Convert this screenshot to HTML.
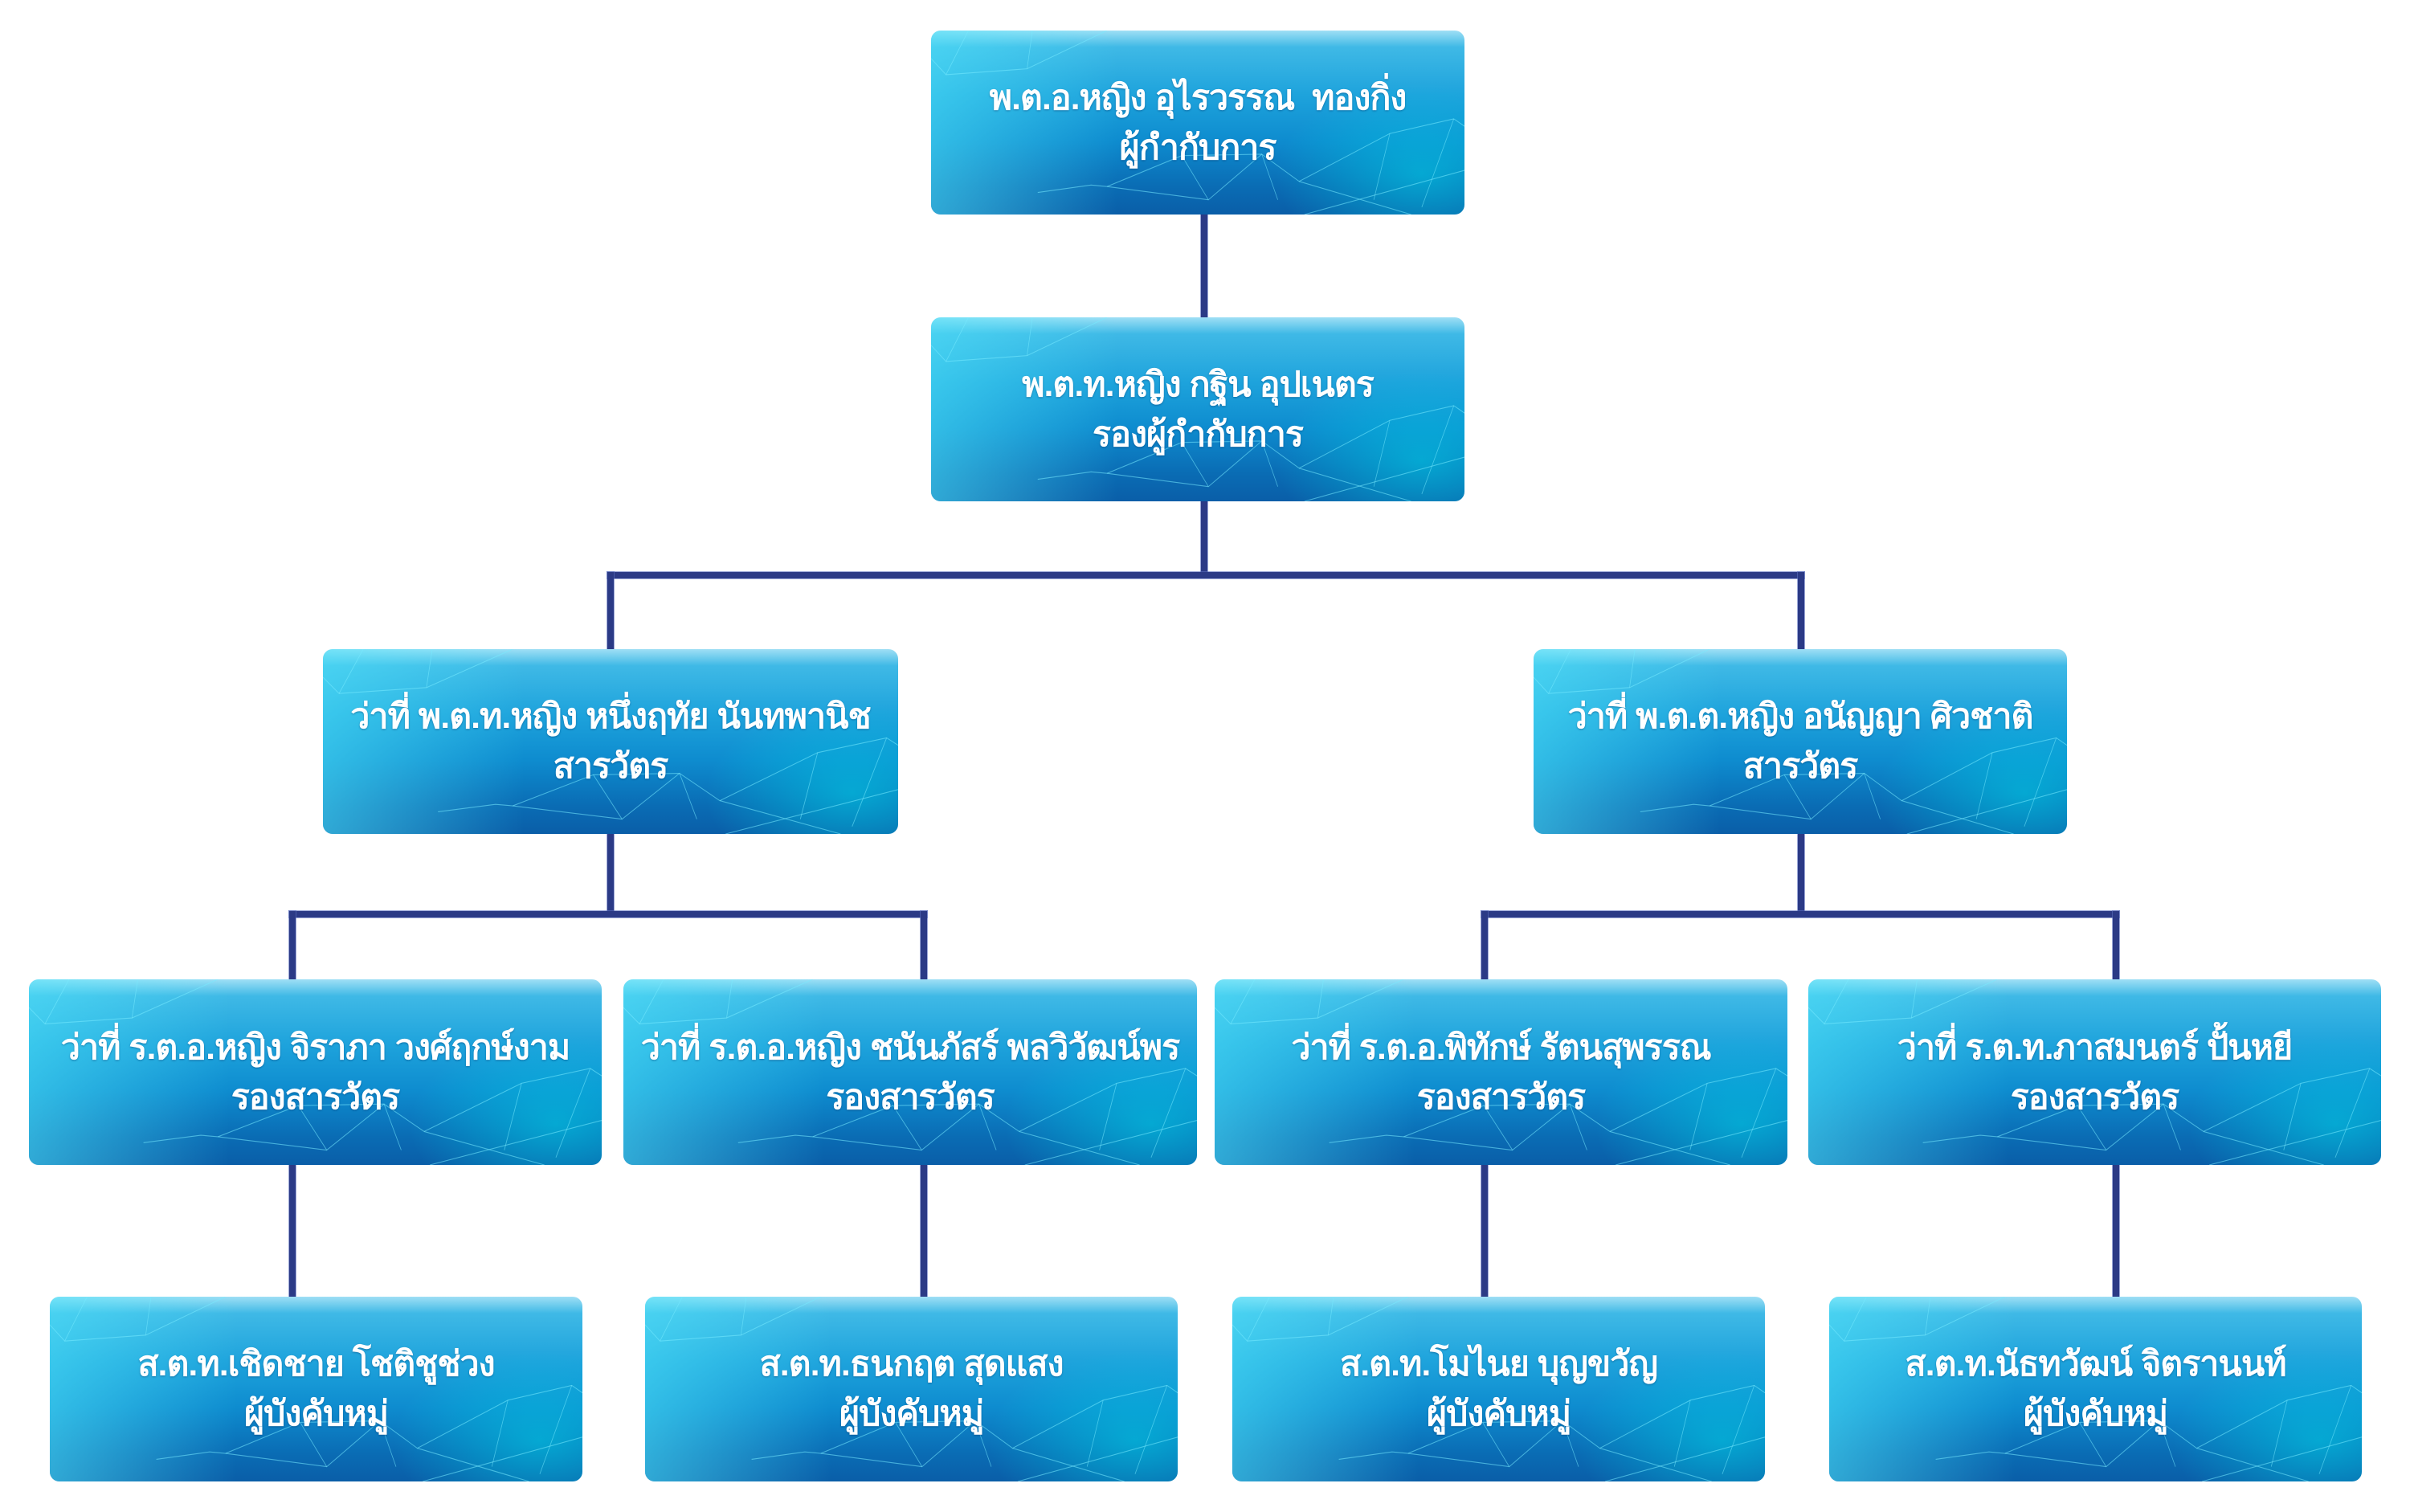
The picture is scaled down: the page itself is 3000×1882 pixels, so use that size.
<!DOCTYPE html>
<html><head><meta charset="utf-8">
<style>
html,body{margin:0;padding:0;background:#fff;}
body{width:3000px;height:1882px;position:relative;overflow:hidden;font-family:"Liberation Sans","Noto Sans CJK SC",sans-serif;}
.b{position:absolute;border-radius:12px;overflow:hidden;
background:radial-gradient(ellipse 260px 160px at 92% 78%,rgba(0,210,230,.55),rgba(0,210,230,0) 70%),
linear-gradient(180deg,#9fdff5 0%,#3fb9e6 9%,#1ea3dc 35%,#0e8ccf 60%,#0a6cb4 85%,#0a5ea8 100%);}
.b::before{content:"";position:absolute;left:0;top:0;width:100%;height:100%;
background:linear-gradient(90deg,rgba(80,230,250,.55) 0%,rgba(80,230,250,0) 35%);}
.b svg{position:absolute;left:0;top:0;width:100%;height:100%;}
.t{position:absolute;left:0;top:0;width:100%;height:100%;display:flex;flex-direction:column;justify-content:center;align-items:center;color:#fff;font-weight:bold;font-size:43px;line-height:62px;letter-spacing:-1px;text-align:center;white-space:nowrap;text-shadow:0 1px 2px rgba(0,40,90,.4);}
.l{position:absolute;background:#2b3a86;box-shadow:0 0 0 1px rgba(90,110,190,.6);}
</style></head><body>

<div class="l" style="left:1495px;top:267px;width:8px;height:128px"></div>
<div class="l" style="left:1495px;top:624px;width:8px;height:92px"></div>
<div class="l" style="left:756px;top:712px;width:1490px;height:8px"></div>
<div class="l" style="left:756px;top:712px;width:8px;height:96px"></div>
<div class="l" style="left:2238px;top:712px;width:8px;height:96px"></div>

<div class="l" style="left:756px;top:1038px;width:8px;height:100px"></div>
<div class="l" style="left:360px;top:1134px;width:794px;height:8px"></div>
<div class="l" style="left:360px;top:1134px;width:8px;height:85px"></div>
<div class="l" style="left:1146px;top:1134px;width:8px;height:85px"></div>

<div class="l" style="left:2238px;top:1038px;width:8px;height:100px"></div>
<div class="l" style="left:1844px;top:1134px;width:794px;height:8px"></div>
<div class="l" style="left:1844px;top:1134px;width:8px;height:85px"></div>
<div class="l" style="left:2630px;top:1134px;width:8px;height:85px"></div>

<div class="l" style="left:360px;top:1450px;width:8px;height:164px"></div>
<div class="l" style="left:1146px;top:1450px;width:8px;height:164px"></div>
<div class="l" style="left:1844px;top:1450px;width:8px;height:164px"></div>
<div class="l" style="left:2630px;top:1450px;width:8px;height:164px"></div>

<svg width="0" height="0" style="position:absolute">
<defs>
<g id="net" stroke="rgba(120,235,255,.55)" stroke-width="1.2" fill="none">
<polyline points="0,38 28,60 70,0"/><polyline points="28,60 180,52 190,0"/><polyline points="180,52 330,0"/>
<polyline points="200,220 300,210 330,212 470,170 620,168 690,205 860,140 980,120 1000,130"/>
<polyline points="470,170 520,230 620,168 650,230"/><polyline points="690,205 900,250"/><polyline points="860,140 830,230"/>
<polyline points="330,212 520,230"/><polyline points="980,120 920,240"/><polyline points="700,250 1000,190"/>
</g>
</defs>
</svg>

<div class="b" style="left:1159px;top:38px;width:664px;height:229px">
<svg viewBox="0 0 1000 250" preserveAspectRatio="none"><use href="#net"/></svg>
<div class="t"><div>พ.ต.อ.หญิง อุไรวรรณ&nbsp; ทองกิ่ง</div><div>ผู้กำกับการ</div></div></div>

<div class="b" style="left:1159px;top:395px;width:664px;height:229px">
<svg viewBox="0 0 1000 250" preserveAspectRatio="none"><use href="#net"/></svg>
<div class="t"><div>พ.ต.ท.หญิง กฐิน อุปเนตร</div><div>รองผู้กำกับการ</div></div></div>

<div class="b" style="left:402px;top:808px;width:716px;height:230px">
<svg viewBox="0 0 1000 250" preserveAspectRatio="none"><use href="#net"/></svg>
<div class="t"><div>ว่าที่ พ.ต.ท.หญิง หนึ่งฤทัย นันทพานิช</div><div>สารวัตร</div></div></div>

<div class="b" style="left:1909px;top:808px;width:664px;height:230px">
<svg viewBox="0 0 1000 250" preserveAspectRatio="none"><use href="#net"/></svg>
<div class="t"><div>ว่าที่ พ.ต.ต.หญิง อนัญญา ศิวชาติ</div><div>สารวัตร</div></div></div>

<div class="b" style="left:36px;top:1219px;width:713px;height:231px">
<svg viewBox="0 0 1000 250" preserveAspectRatio="none"><use href="#net"/></svg>
<div class="t"><div>ว่าที่ ร.ต.อ.หญิง จิราภา วงศ์ฤกษ์งาม</div><div>รองสารวัตร</div></div></div>

<div class="b" style="left:776px;top:1219px;width:714px;height:231px">
<svg viewBox="0 0 1000 250" preserveAspectRatio="none"><use href="#net"/></svg>
<div class="t"><div>ว่าที่ ร.ต.อ.หญิง ชนันภัสร์ พลวิวัฒน์พร</div><div>รองสารวัตร</div></div></div>

<div class="b" style="left:1512px;top:1219px;width:713px;height:231px">
<svg viewBox="0 0 1000 250" preserveAspectRatio="none"><use href="#net"/></svg>
<div class="t"><div>ว่าที่ ร.ต.อ.พิทักษ์ รัตนสุพรรณ</div><div>รองสารวัตร</div></div></div>

<div class="b" style="left:2251px;top:1219px;width:713px;height:231px">
<svg viewBox="0 0 1000 250" preserveAspectRatio="none"><use href="#net"/></svg>
<div class="t"><div>ว่าที่ ร.ต.ท.ภาสมนตร์ ปั้นหยี</div><div>รองสารวัตร</div></div></div>

<div class="b" style="left:62px;top:1614px;width:663px;height:230px">
<svg viewBox="0 0 1000 250" preserveAspectRatio="none"><use href="#net"/></svg>
<div class="t"><div>ส.ต.ท.เชิดชาย โชติชูช่วง</div><div>ผู้บังคับหมู่</div></div></div>

<div class="b" style="left:803px;top:1614px;width:663px;height:230px">
<svg viewBox="0 0 1000 250" preserveAspectRatio="none"><use href="#net"/></svg>
<div class="t"><div>ส.ต.ท.ธนกฤต สุดแสง</div><div>ผู้บังคับหมู่</div></div></div>

<div class="b" style="left:1534px;top:1614px;width:663px;height:230px">
<svg viewBox="0 0 1000 250" preserveAspectRatio="none"><use href="#net"/></svg>
<div class="t"><div>ส.ต.ท.โมไนย บุญขวัญ</div><div>ผู้บังคับหมู่</div></div></div>

<div class="b" style="left:2277px;top:1614px;width:663px;height:230px">
<svg viewBox="0 0 1000 250" preserveAspectRatio="none"><use href="#net"/></svg>
<div class="t"><div>ส.ต.ท.นัธทวัฒน์ จิตรานนท์</div><div>ผู้บังคับหมู่</div></div></div>

</body></html>
